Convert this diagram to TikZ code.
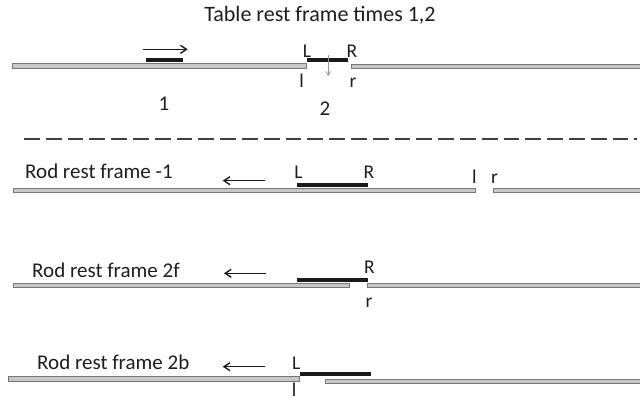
\documentclass[tikz,border=0pt]{standalone}
\usepackage{fontspec}
\setmainfont{Carlito}
\usetikzlibrary{arrows.meta}
\definecolor{trackedge}{HTML}{777777}
\definecolor{trackfill}{HTML}{C8C8C8}
\definecolor{rodcol}{HTML}{1A1A1A}
\definecolor{txt}{HTML}{1E1E1E}
\tikzset{
  track/.style={draw=trackedge, fill=trackfill, line width=0.9pt},
  rod/.style={draw=rodcol, line width=4pt},
  motion/.style={draw=rodcol, line width=1.4pt, -{Straight Barb[length=6pt,width=8pt,line width=1.4pt]}},
  lab/.style={anchor=base, inner sep=0pt, text=txt, font=\fontsize{19.5}{22}\selectfont},
  big/.style={anchor=base, inner sep=0pt, text=txt, font=\fontsize{21}{24}\selectfont},
  caption/.style={anchor=base west, inner sep=0pt, text=txt, font=\fontsize{21}{24}\selectfont},
}
\begin{document}
\begin{tikzpicture}[x=1pt,y=-1pt]
\useasboundingbox (0,0) rectangle (640,400);
% title
\node[anchor=base, inner sep=0pt, text=txt, font=\fontsize{22}{26}\selectfont] (title) at (320,21) {Table rest frame times 1,2};
% ---- row 1
\draw[track] (12.7,63.3) rectangle (306,68);
\draw[track] (351,64) rectangle (641,68.7);
\coordinate (r1a) at (145.7,60.3); \coordinate (r1b) at (182.7,60.3);
\draw[rod] (r1a) -- (r1b);
\coordinate (r2a) at (307.3,60.3); \coordinate (r2b) at (348.3,60.3);
\draw[rod] (r2a) -- (r2b);
\coordinate (m1s) at (143.3,49.3); \coordinate (m1e) at (187.7,49.3);
\draw[motion] (m1s) -- (m1e);
\coordinate (ds) at (328.3,55); \coordinate (de) at (328.3,76);
\draw[draw=gray!80, line width=0.7pt, -{Straight Barb[length=4pt,width=5pt]}] (ds) -- (de);
\node[lab] (L1) at (307,57.8) {L};
\node[lab] (R1) at (352,57.8) {R};
\node[lab] (l1) at (301.7,87.5) {l};
\node[lab] (rr1) at (353,87.5) {r};
\node[big] (n1) at (164,110.5) {1};
\node[big] (n2) at (325,115) {2};
% dashed separator
\coordinate (dsa) at (24,139.3); \coordinate (dsb) at (637,139.3);
\draw[draw=black!75, line width=2pt, dash pattern=on 15.8pt off 6pt] (dsa) -- (dsb);
% ---- row 2
\node[caption] (c2) at (25,178.5) {Rod rest frame -1};
\draw[track] (13,188) rectangle (475,192.5);
\draw[track] (493.3,188) rectangle (641,192.5);
\coordinate (r3a) at (296.7,185.3); \coordinate (r3b) at (368.3,185.3);
\draw[rod] (r3a) -- (r3b);
\coordinate (m2s) at (265,180.7); \coordinate (m2e) at (222.7,180.7);
\draw[motion] (m2s) -- (m2e);
\node[lab] (L2) at (298.5,178.5) {L};
\node[lab] (R2) at (369,178.5) {R};
\node[lab] (l2) at (474.3,183) {l};
\node[lab] (rr2) at (494.5,183) {r};
% ---- row 3
\node[caption] (c3) at (32,277) {Rod rest frame 2f};
\draw[track] (13,283.3) rectangle (349,287.7);
\draw[track] (367.7,283.3) rectangle (641,287.7);
\coordinate (r4a) at (296.7,279.7); \coordinate (r4b) at (368.3,279.7);
\draw[rod] (r4a) -- (r4b);
\coordinate (m3s) at (265.7,273.3); \coordinate (m3e) at (224,273.3);
\draw[motion] (m3s) -- (m3e);
\node[lab] (R3) at (369.5,273.5) {R};
\node[lab] (rr3) at (369,307) {r};
% ---- row 4
\node[caption] (c4) at (37,369) {Rod rest frame 2b};
\draw[track] (8,376.7) rectangle (299.3,381);
\draw[track] (325,379) rectangle (641,383.3);
\coordinate (r5a) at (300,373.7); \coordinate (r5b) at (371,373.7);
\draw[rod] (r5a) -- (r5b);
\coordinate (m4s) at (265,366.7); \coordinate (m4e) at (222.7,366.7);
\draw[motion] (m4s) -- (m4e);
\node[lab] (L4) at (296.3,369) {L};
\node[lab] (l4) at (294,396) {l};
\end{tikzpicture}
\end{document}
